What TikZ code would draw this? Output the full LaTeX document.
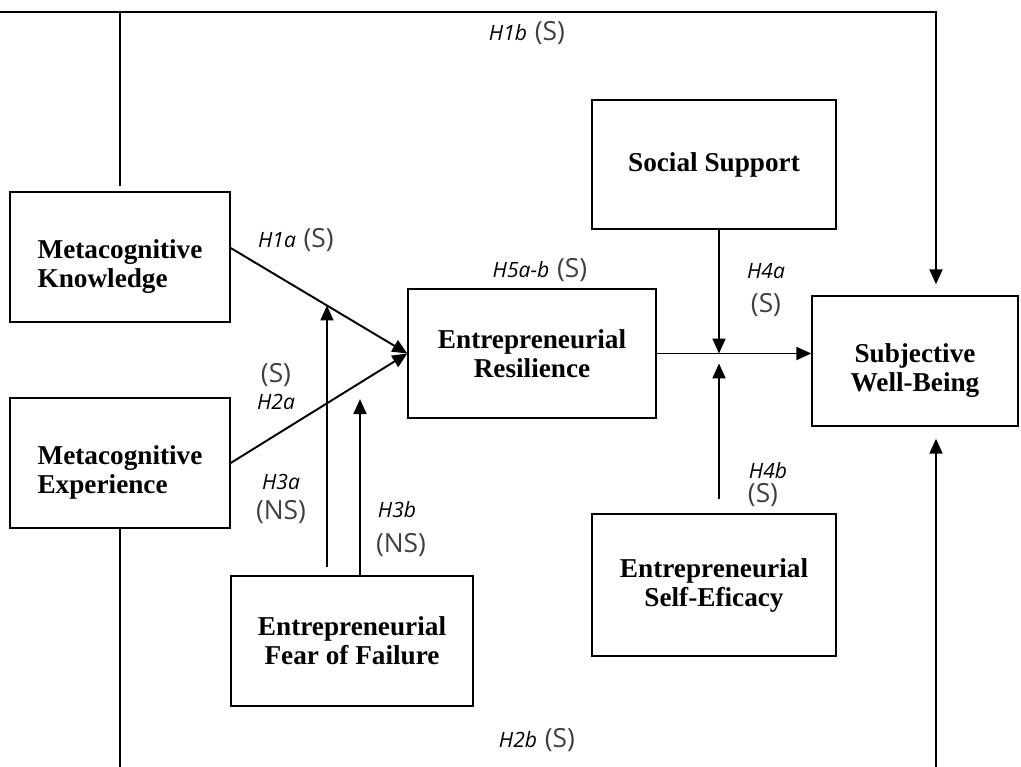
\documentclass[tikz,border=0pt]{standalone}
\usepackage{fontspec}
\setmainfont{Liberation Serif}
\newfontfamily\labelfont{Open Sans}
\usepackage{xcolor}
\usetikzlibrary{arrows.meta,positioning,calc}
\definecolor{labgray}{HTML}{404040}
\newcommand{\lowstrut}{\rule{0pt}{22pt}}

\begin{document}
\begin{tikzpicture}[
  x=0.02cm, y=-0.02cm,
  box/.style={draw, line width=0.8pt, align=center, font=\fontsize{15.5}{16.5}\selectfont\bfseries},
  arrow/.style={-{Triangle[length=3mm, width=2.6mm]}, line width=1.1pt},
  hlab/.style={font=\labelfont\fontsize{12}{14}\selectfont\itshape, inner sep=1pt},
  slab/.style={font=\labelfont\fontsize{15}{17}\selectfont, text=labgray, inner sep=1pt},
]
  \clip (0,0) rectangle (1021,767);

  % Core boxes
  \node[box, align=left, minimum width=4.4cm, minimum height=2.6cm] (know) at (120,257) {\lowstrut Metacognitive\\Knowledge};
  \node[box, align=left, minimum width=4.4cm, minimum height=2.6cm] (exper) at (120,463) {\lowstrut Metacognitive\\Experience};
  \node[box, minimum width=4.96cm, minimum height=2.58cm] (resil) at (532,353.5) {Entrepreneurial\\Resilience};
  \node[box, minimum width=4.88cm, minimum height=2.58cm] (support) at (714,164.5) {Social Support};
  \node[box, minimum width=4.12cm, minimum height=2.6cm] (wellb) at (915,361) {\lowstrut Subjective\\Well-Being};
  \node[box, minimum width=4.88cm, minimum height=2.84cm] (efficacy) at (714,585) {Entrepreneurial\\Self-Eficacy};
  \node[box, minimum width=4.84cm, minimum height=2.6cm] (fear) at (352,641) {Entrepreneurial\\Fear of Failure};

  % Junction points
  \coordinate (k1) at ([yshift=0.18cm]know.east);
  \coordinate (h1) at ($(k1)!0.545!(resil.west)$);
  \coordinate (h2) at ($(exper.east)!0.73!(resil.west)$);
  \coordinate (junc) at ([xshift=0.1cm]support.south |- resil.east);
  \coordinate (top) at (0,12);
  \coordinate (bottom) at (0,775);

  % Arrows
  \draw[arrow] (k1) -- (resil.west);
  \draw[arrow] (exper.east) -- (resil.west);
  \draw[arrow] ([yshift=0.16cm]fear.north -| h1) -- (h1);
  \draw[arrow] ([xshift=0.16cm]fear.north) -- ([xshift=0.16cm, yshift=-0.32cm]fear.north |- h2);
  \draw[arrow] (resil.east) -- (resil.east -| wellb.west);
  \draw[arrow] (support.south -| junc) -- (junc);
  \draw[arrow] ([yshift=0.28cm]efficacy.north -| junc) -- ([yshift=-0.2cm]junc);
  \draw[arrow] ([yshift=0.1cm]know.north) |- (top) -| ([xshift=0.42cm, yshift=0.22cm]wellb.north);
  \draw[arrow] (exper.south) |- (bottom) -| ([xshift=0.42cm, yshift=-0.24cm]wellb.south);

  % Labels
  \node[hlab] (l1b) at (508,33) {H1b};
  \node[slab, right=2pt of l1b] (s1b) {(S)};
  \node[hlab] (l1a) at (277,240) {H1a};
  \node[slab, right=2pt of l1a] (s1a) {(S)};
  \node[hlab] (l5) at (521,270) {H5a-b};
  \node[slab, right=2pt of l5] (s5) {(S)};
  \node[slab] (s2a) at (276,375) {(S)};
  \node[hlab] (l2a) at (276,402) {H2a};
  \node[hlab] (l3a) at (281,482) {H3a};
  \node[slab] (s3a) at (281,512) {(NS)};
  \node[hlab] (l3b) at (397,510) {H3b};
  \node[slab] (s3b) at (401,545) {(NS)};
  \node[hlab] (l4a) at (766,271) {H4a};
  \node[slab] (s4a) at (766,305) {(S)};
  \node[hlab] (l4b) at (768,471) {H4b};
  \node[slab] (s4b) at (763,495) {(S)};
  \node[hlab] (l2b) at (518,740) {H2b};
  \node[slab, right=2pt of l2b] (s2b) {(S)};
\end{tikzpicture}
\end{document}
